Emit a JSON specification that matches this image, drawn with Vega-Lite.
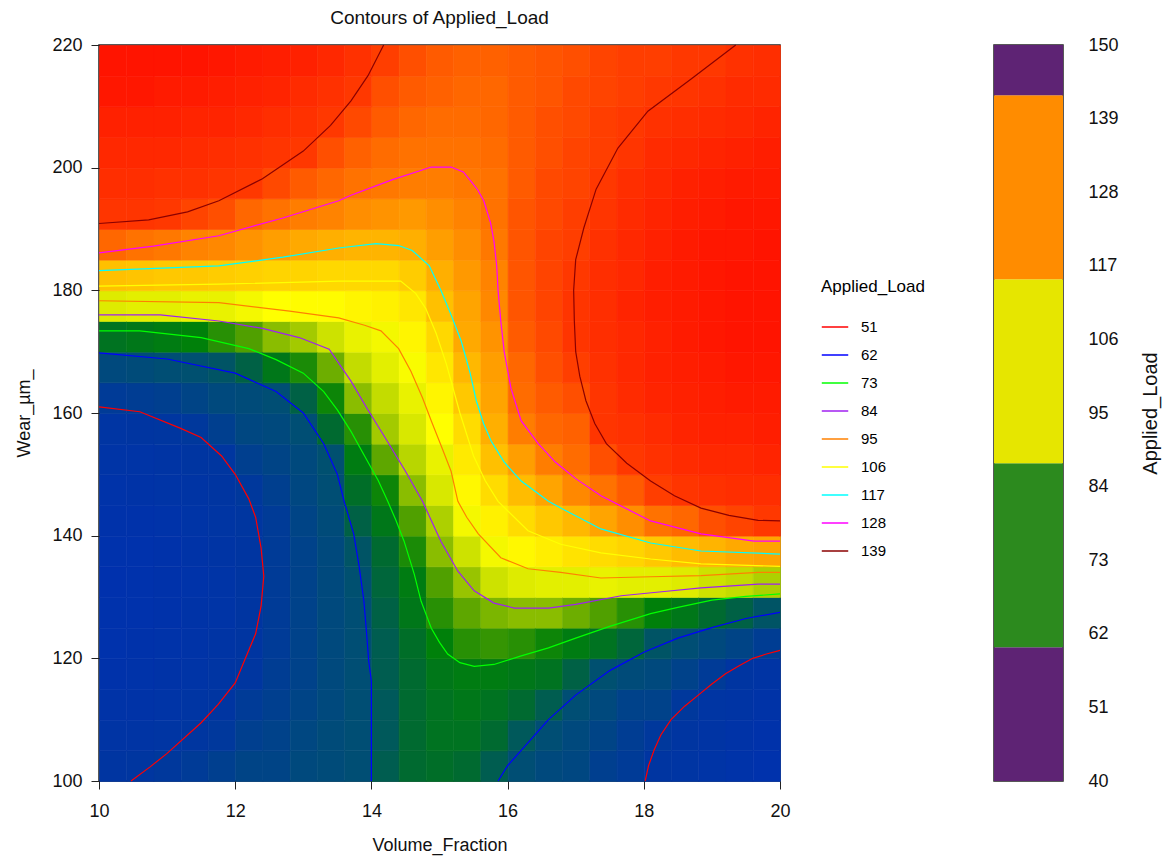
{
"$schema":"https://vega.github.io/schema/vega-lite/v6.json",
"padding":{"left":15,"top":8,"right":5,"bottom":5},
"spacing":202,
"config":{
 "font":"Liberation Sans",
 "view":{"stroke":"#222","strokeWidth":1.5},
 "axis":{"labelFontSize":18,"titleFontSize":18,"titleFontWeight":"normal","tickSize":8,"labelPadding":6,"grid":false,"domain":false,"tickColor":"#222","labelColor":"#111","titleColor":"#111","labelFlush":false,"labelOverlap":false},
 "title":{"fontSize":19,"fontWeight":"normal","color":"#111"}
},
"datasets":{
"bands":[
{"band":"b1","lo":40,"hi":60},{"band":"b2","lo":60,"hi":87.5},{"band":"b3","lo":87.5,"hi":115},{"band":"b4","lo":115,"hi":142.5},{"band":"b5","lo":142.5,"hi":150}
],
"contours":[
{"seg":"51a","lvl":"51","o":1,"x":10,"y":161},{"seg":"51a","lvl":"51","o":2,"x":10.6,"y":160.2},{"seg":"51a","lvl":"51","o":3,"x":11.2,"y":157.5},{"seg":"51a","lvl":"51","o":4,"x":11.5,"y":156},{"seg":"51a","lvl":"51","o":5,"x":11.8,"y":153},{"seg":"51a","lvl":"51","o":6,"x":12.0,"y":150},{"seg":"51a","lvl":"51","o":7,"x":12.2,"y":146},{"seg":"51a","lvl":"51","o":8,"x":12.3,"y":143},{"seg":"51a","lvl":"51","o":9,"x":12.38,"y":138},{"seg":"51a","lvl":"51","o":10,"x":12.42,"y":133.4},{"seg":"51a","lvl":"51","o":11,"x":12.38,"y":128.5},{"seg":"51a","lvl":"51","o":12,"x":12.3,"y":124},{"seg":"51a","lvl":"51","o":13,"x":12.15,"y":120},{"seg":"51a","lvl":"51","o":14,"x":12.0,"y":116},{"seg":"51a","lvl":"51","o":15,"x":11.75,"y":112.5},{"seg":"51a","lvl":"51","o":16,"x":11.5,"y":109.5},{"seg":"51a","lvl":"51","o":17,"x":11.0,"y":104.5},{"seg":"51a","lvl":"51","o":18,"x":10.75,"y":102.3},{"seg":"51a","lvl":"51","o":19,"x":10.47,"y":100},
{"seg":"51b","lvl":"51","o":1,"x":18.02,"y":100},{"seg":"51b","lvl":"51","o":2,"x":18.07,"y":102.5},{"seg":"51b","lvl":"51","o":3,"x":18.15,"y":105},{"seg":"51b","lvl":"51","o":4,"x":18.25,"y":107.5},{"seg":"51b","lvl":"51","o":5,"x":18.4,"y":110},{"seg":"51b","lvl":"51","o":6,"x":18.6,"y":112.2},{"seg":"51b","lvl":"51","o":7,"x":18.8,"y":114},{"seg":"51b","lvl":"51","o":8,"x":19.0,"y":115.8},{"seg":"51b","lvl":"51","o":9,"x":19.2,"y":117.5},{"seg":"51b","lvl":"51","o":10,"x":19.4,"y":118.8},{"seg":"51b","lvl":"51","o":11,"x":19.6,"y":120},{"seg":"51b","lvl":"51","o":12,"x":19.8,"y":120.7},{"seg":"51b","lvl":"51","o":13,"x":20,"y":121.3},
{"seg":"62a","lvl":"62","o":1,"x":10,"y":169.8},{"seg":"62a","lvl":"62","o":2,"x":11,"y":168.8},{"seg":"62a","lvl":"62","o":3,"x":12,"y":166.5},{"seg":"62a","lvl":"62","o":4,"x":12.6,"y":163.5},{"seg":"62a","lvl":"62","o":5,"x":13,"y":160},{"seg":"62a","lvl":"62","o":6,"x":13.3,"y":155},{"seg":"62a","lvl":"62","o":7,"x":13.5,"y":150},{"seg":"62a","lvl":"62","o":8,"x":13.6,"y":145.6},{"seg":"62a","lvl":"62","o":9,"x":13.74,"y":140.3},{"seg":"62a","lvl":"62","o":10,"x":13.82,"y":135},{"seg":"62a","lvl":"62","o":11,"x":13.89,"y":129.3},{"seg":"62a","lvl":"62","o":12,"x":13.93,"y":124},{"seg":"62a","lvl":"62","o":13,"x":13.96,"y":119.6},{"seg":"62a","lvl":"62","o":14,"x":14.0,"y":116.3},{"seg":"62a","lvl":"62","o":15,"x":14.0,"y":108},{"seg":"62a","lvl":"62","o":16,"x":14.0,"y":100},
{"seg":"62b","lvl":"62","o":1,"x":15.86,"y":100},{"seg":"62b","lvl":"62","o":2,"x":16.0,"y":102.5},{"seg":"62b","lvl":"62","o":3,"x":16.2,"y":105},{"seg":"62b","lvl":"62","o":4,"x":16.6,"y":110},{"seg":"62b","lvl":"62","o":5,"x":17.0,"y":114},{"seg":"62b","lvl":"62","o":6,"x":17.5,"y":118},{"seg":"62b","lvl":"62","o":7,"x":18.0,"y":121},{"seg":"62b","lvl":"62","o":8,"x":18.5,"y":123.3},{"seg":"62b","lvl":"62","o":9,"x":19.0,"y":125},{"seg":"62b","lvl":"62","o":10,"x":19.5,"y":126.5},{"seg":"62b","lvl":"62","o":11,"x":20,"y":127.5},
{"seg":"73","lvl":"73","o":1,"x":10,"y":173.4},{"seg":"73","lvl":"73","o":2,"x":10.6,"y":173.4},{"seg":"73","lvl":"73","o":3,"x":11.5,"y":172.3},{"seg":"73","lvl":"73","o":4,"x":12.2,"y":170.5},{"seg":"73","lvl":"73","o":5,"x":12.6,"y":168.7},{"seg":"73","lvl":"73","o":6,"x":13.0,"y":166.5},{"seg":"73","lvl":"73","o":7,"x":13.3,"y":163.5},{"seg":"73","lvl":"73","o":8,"x":13.5,"y":160.5},{"seg":"73","lvl":"73","o":9,"x":13.7,"y":157},{"seg":"73","lvl":"73","o":10,"x":13.9,"y":153},{"seg":"73","lvl":"73","o":11,"x":14.1,"y":149},{"seg":"73","lvl":"73","o":12,"x":14.24,"y":145.6},{"seg":"73","lvl":"73","o":13,"x":14.36,"y":142.5},{"seg":"73","lvl":"73","o":14,"x":14.48,"y":139.1},{"seg":"73","lvl":"73","o":15,"x":14.63,"y":133.7},{"seg":"73","lvl":"73","o":16,"x":14.73,"y":129.3},{"seg":"73","lvl":"73","o":17,"x":14.88,"y":124.9},{"seg":"73","lvl":"73","o":18,"x":15.0,"y":122.6},{"seg":"73","lvl":"73","o":19,"x":15.12,"y":120.7},{"seg":"73","lvl":"73","o":20,"x":15.3,"y":119.3},{"seg":"73","lvl":"73","o":21,"x":15.51,"y":118.7},{"seg":"73","lvl":"73","o":22,"x":15.8,"y":119},{"seg":"73","lvl":"73","o":23,"x":16.2,"y":120.4},{"seg":"73","lvl":"73","o":24,"x":16.6,"y":121.7},{"seg":"73","lvl":"73","o":25,"x":17.0,"y":123.3},{"seg":"73","lvl":"73","o":26,"x":17.5,"y":125.2},{"seg":"73","lvl":"73","o":27,"x":18.1,"y":127.3},{"seg":"73","lvl":"73","o":28,"x":18.5,"y":128.3},{"seg":"73","lvl":"73","o":29,"x":19.0,"y":129.5},{"seg":"73","lvl":"73","o":30,"x":19.5,"y":130.1},{"seg":"73","lvl":"73","o":31,"x":20,"y":130.5},
{"seg":"84","lvl":"84","o":1,"x":10,"y":176},{"seg":"84","lvl":"84","o":2,"x":10.9,"y":176},{"seg":"84","lvl":"84","o":3,"x":11.76,"y":175},{"seg":"84","lvl":"84","o":4,"x":12.4,"y":173.8},{"seg":"84","lvl":"84","o":5,"x":12.94,"y":172.3},{"seg":"84","lvl":"84","o":6,"x":13.38,"y":170.4},{"seg":"84","lvl":"84","o":7,"x":13.7,"y":165.2},{"seg":"84","lvl":"84","o":8,"x":13.95,"y":160.5},{"seg":"84","lvl":"84","o":9,"x":14.2,"y":156},{"seg":"84","lvl":"84","o":10,"x":14.5,"y":150.5},{"seg":"84","lvl":"84","o":11,"x":14.75,"y":145.6},{"seg":"84","lvl":"84","o":12,"x":15.02,"y":139.1},{"seg":"84","lvl":"84","o":13,"x":15.27,"y":134.2},{"seg":"84","lvl":"84","o":14,"x":15.51,"y":131},{"seg":"84","lvl":"84","o":15,"x":15.8,"y":129},{"seg":"84","lvl":"84","o":16,"x":16.1,"y":128.2},{"seg":"84","lvl":"84","o":17,"x":16.6,"y":128.2},{"seg":"84","lvl":"84","o":18,"x":17.0,"y":128.8},{"seg":"84","lvl":"84","o":19,"x":17.67,"y":130.2},{"seg":"84","lvl":"84","o":20,"x":18.3,"y":130.9},{"seg":"84","lvl":"84","o":21,"x":18.84,"y":131.5},{"seg":"84","lvl":"84","o":22,"x":19.68,"y":132.1},{"seg":"84","lvl":"84","o":23,"x":20,"y":132.1},
{"seg":"95","lvl":"95","o":1,"x":10,"y":178.3},{"seg":"95","lvl":"95","o":2,"x":11.76,"y":178},{"seg":"95","lvl":"95","o":3,"x":12.8,"y":176.6},{"seg":"95","lvl":"95","o":4,"x":13.52,"y":175.5},{"seg":"95","lvl":"95","o":5,"x":13.9,"y":174.3},{"seg":"95","lvl":"95","o":6,"x":14.14,"y":173.4},{"seg":"95","lvl":"95","o":7,"x":14.4,"y":170.5},{"seg":"95","lvl":"95","o":8,"x":14.58,"y":166.8},{"seg":"95","lvl":"95","o":9,"x":14.75,"y":162.5},{"seg":"95","lvl":"95","o":10,"x":14.88,"y":158.7},{"seg":"95","lvl":"95","o":11,"x":15.03,"y":154.5},{"seg":"95","lvl":"95","o":12,"x":15.17,"y":150.5},{"seg":"95","lvl":"95","o":13,"x":15.27,"y":145.6},{"seg":"95","lvl":"95","o":14,"x":15.4,"y":143},{"seg":"95","lvl":"95","o":15,"x":15.57,"y":140.3},{"seg":"95","lvl":"95","o":16,"x":15.9,"y":136.4},{"seg":"95","lvl":"95","o":17,"x":16.3,"y":134.6},{"seg":"95","lvl":"95","o":18,"x":16.78,"y":134},{"seg":"95","lvl":"95","o":19,"x":17.37,"y":133.1},{"seg":"95","lvl":"95","o":20,"x":18.1,"y":133.3},{"seg":"95","lvl":"95","o":21,"x":18.84,"y":133.5},{"seg":"95","lvl":"95","o":22,"x":19.68,"y":134},{"seg":"95","lvl":"95","o":23,"x":20,"y":134},
{"seg":"106","lvl":"106","o":1,"x":10,"y":180.7},{"seg":"106","lvl":"106","o":2,"x":11.76,"y":181},{"seg":"106","lvl":"106","o":3,"x":13.52,"y":181.5},{"seg":"106","lvl":"106","o":4,"x":14.43,"y":181.5},{"seg":"106","lvl":"106","o":5,"x":14.65,"y":179.5},{"seg":"106","lvl":"106","o":6,"x":14.8,"y":177},{"seg":"106","lvl":"106","o":7,"x":14.95,"y":173},{"seg":"106","lvl":"106","o":8,"x":15.1,"y":168},{"seg":"106","lvl":"106","o":9,"x":15.3,"y":160},{"seg":"106","lvl":"106","o":10,"x":15.5,"y":153},{"seg":"106","lvl":"106","o":11,"x":15.67,"y":149},{"seg":"106","lvl":"106","o":12,"x":15.86,"y":145.6},{"seg":"106","lvl":"106","o":13,"x":16.3,"y":140.8},{"seg":"106","lvl":"106","o":14,"x":16.78,"y":138.6},{"seg":"106","lvl":"106","o":15,"x":17.37,"y":137.2},{"seg":"106","lvl":"106","o":16,"x":18.1,"y":136.2},{"seg":"106","lvl":"106","o":17,"x":18.84,"y":135.4},{"seg":"106","lvl":"106","o":18,"x":20,"y":135},
{"seg":"117","lvl":"117","o":1,"x":10,"y":183.2},{"seg":"117","lvl":"117","o":2,"x":11.76,"y":184},{"seg":"117","lvl":"117","o":3,"x":12.7,"y":185.4},{"seg":"117","lvl":"117","o":4,"x":13.52,"y":186.9},{"seg":"117","lvl":"117","o":5,"x":14.07,"y":187.6},{"seg":"117","lvl":"117","o":6,"x":14.4,"y":187.3},{"seg":"117","lvl":"117","o":7,"x":14.6,"y":186.5},{"seg":"117","lvl":"117","o":8,"x":14.85,"y":184},{"seg":"117","lvl":"117","o":9,"x":15.02,"y":180},{"seg":"117","lvl":"117","o":10,"x":15.17,"y":176},{"seg":"117","lvl":"117","o":11,"x":15.32,"y":171.7},{"seg":"117","lvl":"117","o":12,"x":15.45,"y":166.5},{"seg":"117","lvl":"117","o":13,"x":15.54,"y":162},{"seg":"117","lvl":"117","o":14,"x":15.65,"y":158.2},{"seg":"117","lvl":"117","o":15,"x":15.76,"y":155.4},{"seg":"117","lvl":"117","o":16,"x":15.95,"y":152},{"seg":"117","lvl":"117","o":17,"x":16.2,"y":148.9},{"seg":"117","lvl":"117","o":18,"x":16.6,"y":145.6},{"seg":"117","lvl":"117","o":19,"x":16.78,"y":144.5},{"seg":"117","lvl":"117","o":20,"x":17.37,"y":141.1},{"seg":"117","lvl":"117","o":21,"x":18.1,"y":138.8},{"seg":"117","lvl":"117","o":22,"x":18.84,"y":137.5},{"seg":"117","lvl":"117","o":23,"x":20,"y":137},
{"seg":"128","lvl":"128","o":1,"x":10,"y":186.1},{"seg":"128","lvl":"128","o":2,"x":10.8,"y":187.2},{"seg":"128","lvl":"128","o":3,"x":11.76,"y":188.9},{"seg":"128","lvl":"128","o":4,"x":12.7,"y":191.8},{"seg":"128","lvl":"128","o":5,"x":13.52,"y":194.6},{"seg":"128","lvl":"128","o":6,"x":13.7,"y":195.5},{"seg":"128","lvl":"128","o":7,"x":14.3,"y":198},{"seg":"128","lvl":"128","o":8,"x":14.88,"y":200.1},{"seg":"128","lvl":"128","o":9,"x":15.17,"y":200.1},{"seg":"128","lvl":"128","o":10,"x":15.35,"y":199.3},{"seg":"128","lvl":"128","o":11,"x":15.46,"y":197.8},{"seg":"128","lvl":"128","o":12,"x":15.56,"y":196.4},{"seg":"128","lvl":"128","o":13,"x":15.65,"y":194.6},{"seg":"128","lvl":"128","o":14,"x":15.75,"y":191},{"seg":"128","lvl":"128","o":15,"x":15.8,"y":188},{"seg":"128","lvl":"128","o":16,"x":15.84,"y":184},{"seg":"128","lvl":"128","o":17,"x":15.86,"y":180},{"seg":"128","lvl":"128","o":18,"x":15.9,"y":175},{"seg":"128","lvl":"128","o":19,"x":15.95,"y":170},{"seg":"128","lvl":"128","o":20,"x":16.05,"y":164},{"seg":"128","lvl":"128","o":21,"x":16.2,"y":158.7},{"seg":"128","lvl":"128","o":22,"x":16.45,"y":155},{"seg":"128","lvl":"128","o":23,"x":16.7,"y":152},{"seg":"128","lvl":"128","o":24,"x":17.0,"y":149.3},{"seg":"128","lvl":"128","o":25,"x":17.37,"y":146.5},{"seg":"128","lvl":"128","o":26,"x":18.1,"y":142.4},{"seg":"128","lvl":"128","o":27,"x":18.84,"y":140.3},{"seg":"128","lvl":"128","o":28,"x":19.62,"y":139.1},{"seg":"128","lvl":"128","o":29,"x":20,"y":139.1},
{"seg":"139a","lvl":"139","o":1,"x":10,"y":190.9},{"seg":"139a","lvl":"139","o":2,"x":10.73,"y":191.5},{"seg":"139a","lvl":"139","o":3,"x":11.3,"y":192.8},{"seg":"139a","lvl":"139","o":4,"x":11.76,"y":194.6},{"seg":"139a","lvl":"139","o":5,"x":12.4,"y":198.2},{"seg":"139a","lvl":"139","o":6,"x":13,"y":202.7},{"seg":"139a","lvl":"139","o":7,"x":13.4,"y":206.9},{"seg":"139a","lvl":"139","o":8,"x":13.7,"y":210.9},{"seg":"139a","lvl":"139","o":9,"x":13.95,"y":215},{"seg":"139a","lvl":"139","o":10,"x":14.18,"y":220},
{"seg":"139b","lvl":"139","o":1,"x":19.35,"y":220},{"seg":"139b","lvl":"139","o":2,"x":18.7,"y":214.5},{"seg":"139b","lvl":"139","o":3,"x":18.06,"y":209.2},{"seg":"139b","lvl":"139","o":4,"x":17.62,"y":203.2},{"seg":"139b","lvl":"139","o":5,"x":17.3,"y":196.5},{"seg":"139b","lvl":"139","o":6,"x":17.12,"y":190.2},{"seg":"139b","lvl":"139","o":7,"x":17.0,"y":185},{"seg":"139b","lvl":"139","o":8,"x":16.97,"y":180},{"seg":"139b","lvl":"139","o":9,"x":16.98,"y":175},{"seg":"139b","lvl":"139","o":10,"x":17.0,"y":170},{"seg":"139b","lvl":"139","o":11,"x":17.06,"y":166},{"seg":"139b","lvl":"139","o":12,"x":17.15,"y":162},{"seg":"139b","lvl":"139","o":13,"x":17.28,"y":158.3},{"seg":"139b","lvl":"139","o":14,"x":17.45,"y":155},{"seg":"139b","lvl":"139","o":15,"x":17.75,"y":151.8},{"seg":"139b","lvl":"139","o":16,"x":18.1,"y":148.9},{"seg":"139b","lvl":"139","o":17,"x":18.45,"y":146.5},{"seg":"139b","lvl":"139","o":18,"x":18.84,"y":144.5},{"seg":"139b","lvl":"139","o":19,"x":19.25,"y":143.3},{"seg":"139b","lvl":"139","o":20,"x":19.68,"y":142.5},{"seg":"139b","lvl":"139","o":21,"x":20,"y":142.4}
],
"grid":[
{"x":10.2,"y":102.5,"v":50},{"x":10.2,"y":107.5,"v":48},{"x":10.2,"y":112.5,"v":46},{"x":10.2,"y":117.5,"v":44},{"x":10.2,"y":122.5,"v":43},{"x":10.2,"y":127.5,"v":43},{"x":10.2,"y":132.5,"v":42},{"x":10.2,"y":137.5,"v":43},{"x":10.2,"y":142.5,"v":44},{"x":10.2,"y":147.5,"v":45},{"x":10.2,"y":152.5,"v":47},{"x":10.2,"y":157.5,"v":49},{"x":10.2,"y":162.5,"v":53},{"x":10.2,"y":167.5,"v":59},{"x":10.2,"y":172.5,"v":70},{"x":10.2,"y":177.5,"v":91},{"x":10.2,"y":182.5,"v":114},{"x":10.2,"y":187.5,"v":131},{"x":10.2,"y":192.5,"v":140},{"x":10.2,"y":197.5,"v":142},{"x":10.2,"y":202.5,"v":144},{"x":10.2,"y":207.5,"v":146},{"x":10.2,"y":212.5,"v":149},{"x":10.2,"y":217.5,"v":150},
{"x":10.6,"y":102.5,"v":51},{"x":10.6,"y":107.5,"v":48},{"x":10.6,"y":112.5,"v":46},{"x":10.6,"y":117.5,"v":45},{"x":10.6,"y":122.5,"v":44},{"x":10.6,"y":127.5,"v":43},{"x":10.6,"y":132.5,"v":43},{"x":10.6,"y":137.5,"v":43},{"x":10.6,"y":142.5,"v":44},{"x":10.6,"y":147.5,"v":46},{"x":10.6,"y":152.5,"v":47},{"x":10.6,"y":157.5,"v":50},{"x":10.6,"y":162.5,"v":54},{"x":10.6,"y":167.5,"v":60},{"x":10.6,"y":172.5,"v":71},{"x":10.6,"y":177.5,"v":92},{"x":10.6,"y":182.5,"v":113},{"x":10.6,"y":187.5,"v":129},{"x":10.6,"y":192.5,"v":140},{"x":10.6,"y":197.5,"v":142},{"x":10.6,"y":202.5,"v":144},{"x":10.6,"y":207.5,"v":146},{"x":10.6,"y":212.5,"v":149},{"x":10.6,"y":217.5,"v":150},
{"x":11.0,"y":102.5,"v":52},{"x":11.0,"y":107.5,"v":49},{"x":11.0,"y":112.5,"v":47},{"x":11.0,"y":117.5,"v":46},{"x":11.0,"y":122.5,"v":45},{"x":11.0,"y":127.5,"v":44},{"x":11.0,"y":132.5,"v":44},{"x":11.0,"y":137.5,"v":44},{"x":11.0,"y":142.5,"v":45},{"x":11.0,"y":147.5,"v":47},{"x":11.0,"y":152.5,"v":48},{"x":11.0,"y":157.5,"v":51},{"x":11.0,"y":162.5,"v":55},{"x":11.0,"y":167.5,"v":61},{"x":11.0,"y":172.5,"v":72},{"x":11.0,"y":177.5,"v":92},{"x":11.0,"y":182.5,"v":112},{"x":11.0,"y":187.5,"v":128},{"x":11.0,"y":192.5,"v":139},{"x":11.0,"y":197.5,"v":141},{"x":11.0,"y":202.5,"v":144},{"x":11.0,"y":207.5,"v":146},{"x":11.0,"y":212.5,"v":148},{"x":11.0,"y":217.5,"v":150},
{"x":11.4,"y":102.5,"v":53},{"x":11.4,"y":107.5,"v":51},{"x":11.4,"y":112.5,"v":49},{"x":11.4,"y":117.5,"v":47},{"x":11.4,"y":122.5,"v":46},{"x":11.4,"y":127.5,"v":46},{"x":11.4,"y":132.5,"v":45},{"x":11.4,"y":137.5,"v":46},{"x":11.4,"y":142.5,"v":47},{"x":11.4,"y":147.5,"v":48},{"x":11.4,"y":152.5,"v":50},{"x":11.4,"y":157.5,"v":52},{"x":11.4,"y":162.5,"v":57},{"x":11.4,"y":167.5,"v":62},{"x":11.4,"y":172.5,"v":73},{"x":11.4,"y":177.5,"v":93},{"x":11.4,"y":182.5,"v":112},{"x":11.4,"y":187.5,"v":126},{"x":11.4,"y":192.5,"v":137},{"x":11.4,"y":197.5,"v":141},{"x":11.4,"y":202.5,"v":143},{"x":11.4,"y":207.5,"v":145},{"x":11.4,"y":212.5,"v":148},{"x":11.4,"y":217.5,"v":150},
{"x":11.8,"y":102.5,"v":55},{"x":11.8,"y":107.5,"v":52},{"x":11.8,"y":112.5,"v":50},{"x":11.8,"y":117.5,"v":49},{"x":11.8,"y":122.5,"v":48},{"x":11.8,"y":127.5,"v":47},{"x":11.8,"y":132.5,"v":47},{"x":11.8,"y":137.5,"v":48},{"x":11.8,"y":142.5,"v":49},{"x":11.8,"y":147.5,"v":50},{"x":11.8,"y":152.5,"v":51},{"x":11.8,"y":157.5,"v":55},{"x":11.8,"y":162.5,"v":59},{"x":11.8,"y":167.5,"v":63},{"x":11.8,"y":172.5,"v":76},{"x":11.8,"y":177.5,"v":93},{"x":11.8,"y":182.5,"v":111},{"x":11.8,"y":187.5,"v":125},{"x":11.8,"y":192.5,"v":135},{"x":11.8,"y":197.5,"v":140},{"x":11.8,"y":202.5,"v":142},{"x":11.8,"y":207.5,"v":145},{"x":11.8,"y":212.5,"v":147},{"x":11.8,"y":217.5,"v":149},
{"x":12.2,"y":102.5,"v":57},{"x":12.2,"y":107.5,"v":55},{"x":12.2,"y":112.5,"v":53},{"x":12.2,"y":117.5,"v":51},{"x":12.2,"y":122.5,"v":50},{"x":12.2,"y":127.5,"v":50},{"x":12.2,"y":132.5,"v":50},{"x":12.2,"y":137.5,"v":50},{"x":12.2,"y":142.5,"v":51},{"x":12.2,"y":147.5,"v":52},{"x":12.2,"y":152.5,"v":55},{"x":12.2,"y":157.5,"v":58},{"x":12.2,"y":162.5,"v":60},{"x":12.2,"y":167.5,"v":66},{"x":12.2,"y":172.5,"v":79},{"x":12.2,"y":177.5,"v":95},{"x":12.2,"y":182.5,"v":110},{"x":12.2,"y":187.5,"v":123},{"x":12.2,"y":192.5,"v":131},{"x":12.2,"y":197.5,"v":139},{"x":12.2,"y":202.5,"v":141},{"x":12.2,"y":207.5,"v":144},{"x":12.2,"y":212.5,"v":146},{"x":12.2,"y":217.5,"v":148},
{"x":12.6,"y":102.5,"v":57},{"x":12.6,"y":107.5,"v":56},{"x":12.6,"y":112.5,"v":55},{"x":12.6,"y":117.5,"v":54},{"x":12.6,"y":122.5,"v":53},{"x":12.6,"y":127.5,"v":53},{"x":12.6,"y":132.5,"v":53},{"x":12.6,"y":137.5,"v":53},{"x":12.6,"y":142.5,"v":53},{"x":12.6,"y":147.5,"v":55},{"x":12.6,"y":152.5,"v":57},{"x":12.6,"y":157.5,"v":59},{"x":12.6,"y":162.5,"v":61},{"x":12.6,"y":167.5,"v":71},{"x":12.6,"y":172.5,"v":83},{"x":12.6,"y":177.5,"v":97},{"x":12.6,"y":182.5,"v":109},{"x":12.6,"y":187.5,"v":121},{"x":12.6,"y":192.5,"v":129},{"x":12.6,"y":197.5,"v":136},{"x":12.6,"y":202.5,"v":140},{"x":12.6,"y":207.5,"v":142},{"x":12.6,"y":212.5,"v":145},{"x":12.6,"y":217.5,"v":147},
{"x":13.0,"y":102.5,"v":59},{"x":13.0,"y":107.5,"v":58},{"x":13.0,"y":112.5,"v":57},{"x":13.0,"y":117.5,"v":56},{"x":13.0,"y":122.5,"v":56},{"x":13.0,"y":127.5,"v":56},{"x":13.0,"y":132.5,"v":56},{"x":13.0,"y":137.5,"v":56},{"x":13.0,"y":142.5,"v":57},{"x":13.0,"y":147.5,"v":58},{"x":13.0,"y":152.5,"v":59},{"x":13.0,"y":157.5,"v":61},{"x":13.0,"y":162.5,"v":66},{"x":13.0,"y":167.5,"v":75},{"x":13.0,"y":172.5,"v":85},{"x":13.0,"y":177.5,"v":98},{"x":13.0,"y":182.5,"v":109},{"x":13.0,"y":187.5,"v":119},{"x":13.0,"y":192.5,"v":127},{"x":13.0,"y":197.5,"v":133},{"x":13.0,"y":202.5,"v":139},{"x":13.0,"y":207.5,"v":141},{"x":13.0,"y":212.5,"v":143},{"x":13.0,"y":217.5,"v":146},
{"x":13.4,"y":102.5,"v":60},{"x":13.4,"y":107.5,"v":60},{"x":13.4,"y":112.5,"v":59},{"x":13.4,"y":117.5,"v":59},{"x":13.4,"y":122.5,"v":59},{"x":13.4,"y":127.5,"v":59},{"x":13.4,"y":132.5,"v":59},{"x":13.4,"y":137.5,"v":59},{"x":13.4,"y":142.5,"v":60},{"x":13.4,"y":147.5,"v":61},{"x":13.4,"y":152.5,"v":62},{"x":13.4,"y":157.5,"v":68},{"x":13.4,"y":162.5,"v":74},{"x":13.4,"y":167.5,"v":81},{"x":13.4,"y":172.5,"v":89},{"x":13.4,"y":177.5,"v":98},{"x":13.4,"y":182.5,"v":108},{"x":13.4,"y":187.5,"v":118},{"x":13.4,"y":192.5,"v":126},{"x":13.4,"y":197.5,"v":131},{"x":13.4,"y":202.5,"v":135},{"x":13.4,"y":207.5,"v":139},{"x":13.4,"y":212.5,"v":141},{"x":13.4,"y":217.5,"v":144},
{"x":13.8,"y":102.5,"v":61},{"x":13.8,"y":107.5,"v":61},{"x":13.8,"y":112.5,"v":61},{"x":13.8,"y":117.5,"v":61},{"x":13.8,"y":122.5,"v":61},{"x":13.8,"y":127.5,"v":61},{"x":13.8,"y":132.5,"v":62},{"x":13.8,"y":137.5,"v":63},{"x":13.8,"y":142.5,"v":66},{"x":13.8,"y":147.5,"v":69},{"x":13.8,"y":152.5,"v":72},{"x":13.8,"y":157.5,"v":76},{"x":13.8,"y":162.5,"v":83},{"x":13.8,"y":167.5,"v":88},{"x":13.8,"y":172.5,"v":93},{"x":13.8,"y":177.5,"v":100},{"x":13.8,"y":182.5,"v":108},{"x":13.8,"y":187.5,"v":117},{"x":13.8,"y":192.5,"v":124},{"x":13.8,"y":197.5,"v":129},{"x":13.8,"y":202.5,"v":132},{"x":13.8,"y":207.5,"v":136},{"x":13.8,"y":212.5,"v":139},{"x":13.8,"y":217.5,"v":141},
{"x":14.2,"y":102.5,"v":65},{"x":14.2,"y":107.5,"v":64},{"x":14.2,"y":112.5,"v":64},{"x":14.2,"y":117.5,"v":65},{"x":14.2,"y":122.5,"v":65},{"x":14.2,"y":127.5,"v":66},{"x":14.2,"y":132.5,"v":67},{"x":14.2,"y":137.5,"v":68},{"x":14.2,"y":142.5,"v":71},{"x":14.2,"y":147.5,"v":74},{"x":14.2,"y":152.5,"v":80},{"x":14.2,"y":157.5,"v":85},{"x":14.2,"y":162.5,"v":88},{"x":14.2,"y":167.5,"v":92},{"x":14.2,"y":172.5,"v":95},{"x":14.2,"y":177.5,"v":101},{"x":14.2,"y":182.5,"v":108},{"x":14.2,"y":187.5,"v":117},{"x":14.2,"y":192.5,"v":123},{"x":14.2,"y":197.5,"v":128},{"x":14.2,"y":202.5,"v":130},{"x":14.2,"y":207.5,"v":133},{"x":14.2,"y":212.5,"v":135},{"x":14.2,"y":217.5,"v":138},
{"x":14.6,"y":102.5,"v":68},{"x":14.6,"y":107.5,"v":68},{"x":14.6,"y":112.5,"v":68},{"x":14.6,"y":117.5,"v":68},{"x":14.6,"y":122.5,"v":69},{"x":14.6,"y":127.5,"v":71},{"x":14.6,"y":132.5,"v":72},{"x":14.6,"y":137.5,"v":75},{"x":14.6,"y":142.5,"v":79},{"x":14.6,"y":147.5,"v":83},{"x":14.6,"y":152.5,"v":87},{"x":14.6,"y":157.5,"v":90},{"x":14.6,"y":162.5,"v":93},{"x":14.6,"y":167.5,"v":96},{"x":14.6,"y":172.5,"v":100},{"x":14.6,"y":177.5,"v":104},{"x":14.6,"y":182.5,"v":111},{"x":14.6,"y":187.5,"v":118},{"x":14.6,"y":192.5,"v":122},{"x":14.6,"y":197.5,"v":127},{"x":14.6,"y":202.5,"v":129},{"x":14.6,"y":207.5,"v":131},{"x":14.6,"y":212.5,"v":133},{"x":14.6,"y":217.5,"v":135},
{"x":15.0,"y":102.5,"v":69},{"x":15.0,"y":107.5,"v":70},{"x":15.0,"y":112.5,"v":70},{"x":15.0,"y":117.5,"v":71},{"x":15.0,"y":122.5,"v":73},{"x":15.0,"y":127.5,"v":76},{"x":15.0,"y":132.5,"v":79},{"x":15.0,"y":137.5,"v":83},{"x":15.0,"y":142.5,"v":86},{"x":15.0,"y":147.5,"v":90},{"x":15.0,"y":152.5,"v":93},{"x":15.0,"y":157.5,"v":97},{"x":15.0,"y":162.5,"v":100},{"x":15.0,"y":167.5,"v":104},{"x":15.0,"y":172.5,"v":108},{"x":15.0,"y":177.5,"v":114},{"x":15.0,"y":182.5,"v":118},{"x":15.0,"y":187.5,"v":121},{"x":15.0,"y":192.5,"v":124},{"x":15.0,"y":197.5,"v":127},{"x":15.0,"y":202.5,"v":129},{"x":15.0,"y":207.5,"v":130},{"x":15.0,"y":212.5,"v":132},{"x":15.0,"y":217.5,"v":133},
{"x":15.4,"y":102.5,"v":68},{"x":15.4,"y":107.5,"v":70},{"x":15.4,"y":112.5,"v":71},{"x":15.4,"y":117.5,"v":72},{"x":15.4,"y":122.5,"v":76},{"x":15.4,"y":127.5,"v":80},{"x":15.4,"y":132.5,"v":84},{"x":15.4,"y":137.5,"v":89},{"x":15.4,"y":142.5,"v":95},{"x":15.4,"y":147.5,"v":99},{"x":15.4,"y":152.5,"v":103},{"x":15.4,"y":157.5,"v":107},{"x":15.4,"y":162.5,"v":112},{"x":15.4,"y":167.5,"v":116},{"x":15.4,"y":172.5,"v":119},{"x":15.4,"y":177.5,"v":120},{"x":15.4,"y":182.5,"v":122},{"x":15.4,"y":187.5,"v":124},{"x":15.4,"y":192.5,"v":126},{"x":15.4,"y":197.5,"v":128},{"x":15.4,"y":202.5,"v":129},{"x":15.4,"y":207.5,"v":130},{"x":15.4,"y":212.5,"v":131},{"x":15.4,"y":217.5,"v":132},
{"x":15.8,"y":102.5,"v":65},{"x":15.8,"y":107.5,"v":68},{"x":15.8,"y":112.5,"v":70},{"x":15.8,"y":117.5,"v":72},{"x":15.8,"y":122.5,"v":77},{"x":15.8,"y":127.5,"v":82},{"x":15.8,"y":132.5,"v":89},{"x":15.8,"y":137.5,"v":95},{"x":15.8,"y":142.5,"v":101},{"x":15.8,"y":147.5,"v":107},{"x":15.8,"y":152.5,"v":114},{"x":15.8,"y":157.5,"v":118},{"x":15.8,"y":162.5,"v":120},{"x":15.8,"y":167.5,"v":121},{"x":15.8,"y":172.5,"v":123},{"x":15.8,"y":177.5,"v":125},{"x":15.8,"y":182.5,"v":126},{"x":15.8,"y":187.5,"v":128},{"x":15.8,"y":192.5,"v":129},{"x":15.8,"y":197.5,"v":129},{"x":15.8,"y":202.5,"v":130},{"x":15.8,"y":207.5,"v":131},{"x":15.8,"y":212.5,"v":131},{"x":15.8,"y":217.5,"v":132},
{"x":16.2,"y":102.5,"v":61},{"x":16.2,"y":107.5,"v":64},{"x":16.2,"y":112.5,"v":68},{"x":16.2,"y":117.5,"v":71},{"x":16.2,"y":122.5,"v":76},{"x":16.2,"y":127.5,"v":83},{"x":16.2,"y":132.5,"v":91},{"x":16.2,"y":137.5,"v":99},{"x":16.2,"y":142.5,"v":107},{"x":16.2,"y":147.5,"v":115},{"x":16.2,"y":152.5,"v":121},{"x":16.2,"y":157.5,"v":127},{"x":16.2,"y":162.5,"v":130},{"x":16.2,"y":167.5,"v":131},{"x":16.2,"y":172.5,"v":133},{"x":16.2,"y":177.5,"v":134},{"x":16.2,"y":182.5,"v":134},{"x":16.2,"y":187.5,"v":134},{"x":16.2,"y":192.5,"v":134},{"x":16.2,"y":197.5,"v":133},{"x":16.2,"y":202.5,"v":133},{"x":16.2,"y":207.5,"v":133},{"x":16.2,"y":212.5,"v":133},{"x":16.2,"y":217.5,"v":133},
{"x":16.6,"y":102.5,"v":59},{"x":16.6,"y":107.5,"v":61},{"x":16.6,"y":112.5,"v":65},{"x":16.6,"y":117.5,"v":70},{"x":16.6,"y":122.5,"v":74},{"x":16.6,"y":127.5,"v":83},{"x":16.6,"y":132.5,"v":92},{"x":16.6,"y":137.5,"v":102},{"x":16.6,"y":142.5,"v":112},{"x":16.6,"y":147.5,"v":120},{"x":16.6,"y":152.5,"v":127},{"x":16.6,"y":157.5,"v":131},{"x":16.6,"y":162.5,"v":133},{"x":16.6,"y":167.5,"v":135},{"x":16.6,"y":172.5,"v":136},{"x":16.6,"y":177.5,"v":137},{"x":16.6,"y":182.5,"v":137},{"x":16.6,"y":187.5,"v":137},{"x":16.6,"y":192.5,"v":136},{"x":16.6,"y":197.5,"v":136},{"x":16.6,"y":202.5,"v":135},{"x":16.6,"y":207.5,"v":135},{"x":16.6,"y":212.5,"v":134},{"x":16.6,"y":217.5,"v":134},
{"x":17.0,"y":102.5,"v":58},{"x":17.0,"y":107.5,"v":59},{"x":17.0,"y":112.5,"v":61},{"x":17.0,"y":117.5,"v":66},{"x":17.0,"y":122.5,"v":72},{"x":17.0,"y":127.5,"v":81},{"x":17.0,"y":132.5,"v":92},{"x":17.0,"y":137.5,"v":105},{"x":17.0,"y":142.5,"v":116},{"x":17.0,"y":147.5,"v":125},{"x":17.0,"y":152.5,"v":130},{"x":17.0,"y":157.5,"v":132},{"x":17.0,"y":162.5,"v":135},{"x":17.0,"y":167.5,"v":138},{"x":17.0,"y":172.5,"v":140},{"x":17.0,"y":177.5,"v":140},{"x":17.0,"y":182.5,"v":139},{"x":17.0,"y":187.5,"v":138},{"x":17.0,"y":192.5,"v":138},{"x":17.0,"y":197.5,"v":137},{"x":17.0,"y":202.5,"v":137},{"x":17.0,"y":207.5,"v":136},{"x":17.0,"y":212.5,"v":136},{"x":17.0,"y":217.5,"v":135},
{"x":17.4,"y":102.5,"v":55},{"x":17.4,"y":107.5,"v":57},{"x":17.4,"y":112.5,"v":59},{"x":17.4,"y":117.5,"v":62},{"x":17.4,"y":122.5,"v":70},{"x":17.4,"y":127.5,"v":79},{"x":17.4,"y":132.5,"v":93},{"x":17.4,"y":137.5,"v":107},{"x":17.4,"y":142.5,"v":120},{"x":17.4,"y":147.5,"v":129},{"x":17.4,"y":152.5,"v":135},{"x":17.4,"y":157.5,"v":140},{"x":17.4,"y":162.5,"v":140},{"x":17.4,"y":167.5,"v":141},{"x":17.4,"y":172.5,"v":142},{"x":17.4,"y":177.5,"v":142},{"x":17.4,"y":182.5,"v":142},{"x":17.4,"y":187.5,"v":141},{"x":17.4,"y":192.5,"v":140},{"x":17.4,"y":197.5,"v":139},{"x":17.4,"y":202.5,"v":138},{"x":17.4,"y":207.5,"v":138},{"x":17.4,"y":212.5,"v":137},{"x":17.4,"y":217.5,"v":137},
{"x":17.8,"y":102.5,"v":53},{"x":17.8,"y":107.5,"v":54},{"x":17.8,"y":112.5,"v":56},{"x":17.8,"y":117.5,"v":60},{"x":17.8,"y":122.5,"v":67},{"x":17.8,"y":127.5,"v":76},{"x":17.8,"y":132.5,"v":92},{"x":17.8,"y":137.5,"v":109},{"x":17.8,"y":142.5,"v":124},{"x":17.8,"y":147.5,"v":133},{"x":17.8,"y":152.5,"v":139},{"x":17.8,"y":157.5,"v":141},{"x":17.8,"y":162.5,"v":143},{"x":17.8,"y":167.5,"v":144},{"x":17.8,"y":172.5,"v":144},{"x":17.8,"y":177.5,"v":145},{"x":17.8,"y":182.5,"v":144},{"x":17.8,"y":187.5,"v":144},{"x":17.8,"y":192.5,"v":143},{"x":17.8,"y":197.5,"v":142},{"x":17.8,"y":202.5,"v":140},{"x":17.8,"y":207.5,"v":139},{"x":17.8,"y":212.5,"v":138},{"x":17.8,"y":217.5,"v":138},
{"x":18.2,"y":102.5,"v":50},{"x":18.2,"y":107.5,"v":52},{"x":18.2,"y":112.5,"v":56},{"x":18.2,"y":117.5,"v":59},{"x":18.2,"y":122.5,"v":63},{"x":18.2,"y":127.5,"v":73},{"x":18.2,"y":132.5,"v":92},{"x":18.2,"y":137.5,"v":112},{"x":18.2,"y":142.5,"v":129},{"x":18.2,"y":147.5,"v":138},{"x":18.2,"y":152.5,"v":141},{"x":18.2,"y":157.5,"v":143},{"x":18.2,"y":162.5,"v":145},{"x":18.2,"y":167.5,"v":146},{"x":18.2,"y":172.5,"v":146},{"x":18.2,"y":177.5,"v":147},{"x":18.2,"y":182.5,"v":147},{"x":18.2,"y":187.5,"v":146},{"x":18.2,"y":192.5,"v":145},{"x":18.2,"y":197.5,"v":144},{"x":18.2,"y":202.5,"v":143},{"x":18.2,"y":207.5,"v":141},{"x":18.2,"y":212.5,"v":139},{"x":18.2,"y":217.5,"v":138},
{"x":18.6,"y":102.5,"v":49},{"x":18.6,"y":107.5,"v":50},{"x":18.6,"y":112.5,"v":52},{"x":18.6,"y":117.5,"v":56},{"x":18.6,"y":122.5,"v":61},{"x":18.6,"y":127.5,"v":71},{"x":18.6,"y":132.5,"v":91},{"x":18.6,"y":137.5,"v":115},{"x":18.6,"y":142.5,"v":131},{"x":18.6,"y":147.5,"v":140},{"x":18.6,"y":152.5,"v":143},{"x":18.6,"y":157.5,"v":145},{"x":18.6,"y":162.5,"v":146},{"x":18.6,"y":167.5,"v":147},{"x":18.6,"y":172.5,"v":148},{"x":18.6,"y":177.5,"v":148},{"x":18.6,"y":182.5,"v":148},{"x":18.6,"y":187.5,"v":148},{"x":18.6,"y":192.5,"v":147},{"x":18.6,"y":197.5,"v":146},{"x":18.6,"y":202.5,"v":144},{"x":18.6,"y":207.5,"v":142},{"x":18.6,"y":212.5,"v":140},{"x":18.6,"y":217.5,"v":139},
{"x":19.0,"y":102.5,"v":47},{"x":19.0,"y":107.5,"v":48},{"x":19.0,"y":112.5,"v":49},{"x":19.0,"y":117.5,"v":53},{"x":19.0,"y":122.5,"v":59},{"x":19.0,"y":127.5,"v":68},{"x":19.0,"y":132.5,"v":89},{"x":19.0,"y":137.5,"v":117},{"x":19.0,"y":142.5,"v":135},{"x":19.0,"y":147.5,"v":141},{"x":19.0,"y":152.5,"v":144},{"x":19.0,"y":157.5,"v":146},{"x":19.0,"y":162.5,"v":147},{"x":19.0,"y":167.5,"v":148},{"x":19.0,"y":172.5,"v":149},{"x":19.0,"y":177.5,"v":149},{"x":19.0,"y":182.5,"v":149},{"x":19.0,"y":187.5,"v":149},{"x":19.0,"y":192.5,"v":148},{"x":19.0,"y":197.5,"v":147},{"x":19.0,"y":202.5,"v":145},{"x":19.0,"y":207.5,"v":143},{"x":19.0,"y":212.5,"v":141},{"x":19.0,"y":217.5,"v":139},
{"x":19.4,"y":102.5,"v":45},{"x":19.4,"y":107.5,"v":46},{"x":19.4,"y":112.5,"v":48},{"x":19.4,"y":117.5,"v":50},{"x":19.4,"y":122.5,"v":57},{"x":19.4,"y":127.5,"v":66},{"x":19.4,"y":132.5,"v":88},{"x":19.4,"y":137.5,"v":119},{"x":19.4,"y":142.5,"v":137},{"x":19.4,"y":147.5,"v":142},{"x":19.4,"y":152.5,"v":144},{"x":19.4,"y":157.5,"v":146},{"x":19.4,"y":162.5,"v":148},{"x":19.4,"y":167.5,"v":149},{"x":19.4,"y":172.5,"v":150},{"x":19.4,"y":177.5,"v":150},{"x":19.4,"y":182.5,"v":150},{"x":19.4,"y":187.5,"v":149},{"x":19.4,"y":192.5,"v":149},{"x":19.4,"y":197.5,"v":148},{"x":19.4,"y":202.5,"v":146},{"x":19.4,"y":207.5,"v":144},{"x":19.4,"y":212.5,"v":143},{"x":19.4,"y":217.5,"v":141},
{"x":19.8,"y":102.5,"v":43},{"x":19.8,"y":107.5,"v":44},{"x":19.8,"y":112.5,"v":46},{"x":19.8,"y":117.5,"v":48},{"x":19.8,"y":122.5,"v":54},{"x":19.8,"y":127.5,"v":63},{"x":19.8,"y":132.5,"v":86},{"x":19.8,"y":137.5,"v":120},{"x":19.8,"y":142.5,"v":139},{"x":19.8,"y":147.5,"v":142},{"x":19.8,"y":152.5,"v":145},{"x":19.8,"y":157.5,"v":147},{"x":19.8,"y":162.5,"v":148},{"x":19.8,"y":167.5,"v":149},{"x":19.8,"y":172.5,"v":150},{"x":19.8,"y":177.5,"v":150},{"x":19.8,"y":182.5,"v":150},{"x":19.8,"y":187.5,"v":150},{"x":19.8,"y":192.5,"v":149},{"x":19.8,"y":197.5,"v":148},{"x":19.8,"y":202.5,"v":147},{"x":19.8,"y":207.5,"v":145},{"x":19.8,"y":212.5,"v":143},{"x":19.8,"y":217.5,"v":142}
]
},
"hconcat":[
{
 "width":681,"height":736,
 "title":{"text":"Contours of Applied_Load","offset":8},
 "layer":[
  {
   "data":{"name":"grid"},
   "mark":{"type":"rect","strokeWidth":0.6},
   "encoding":{
    "x":{"field":"x","type":"quantitative","bin":{"step":0.4,"extent":[10,20]},"scale":{"domain":[10,20],"nice":false,"zero":false},"axis":{"values":[10,12,14,16,18,20],"format":"d","labelPadding":13,"titlePadding":16},"title":"Volume_Fraction"},
    "y":{"field":"y","type":"quantitative","bin":{"step":5,"extent":[100,220]},"scale":{"domain":[100,220],"nice":false,"zero":false},"axis":{"values":[100,120,140,160,180,200,220],"format":"d","labelPadding":9,"titlePadding":18},"title":"Wear_µm_"},
    "fill":{"field":"v","type":"quantitative","scale":{"domain":[40,51,62,68,73,79,84,90,97,106,117,128,139,150],"range":["#0030B0","#0036A0","#005070","#006A30","#00800A","#50A000","#98C400","#D8E800","#FFFF00","#FFE000","#FFB400","#FF7800","#FF3800","#FF1400"],"interpolate":"rgb"},"legend":null},
    "stroke":{"field":"v","type":"quantitative","scale":{"domain":[40,51,62,68,73,79,84,90,97,106,117,128,139,150],"range":["#0030B0","#0036A0","#005070","#006A30","#00800A","#50A000","#98C400","#D8E800","#FFFF00","#FFE000","#FFB400","#FF7800","#FF3800","#FF1400"],"interpolate":"rgb"},"legend":null}
   }
  },
  {
   "data":{"name":"contours"},
   "mark":{"type":"line","strokeWidth":1.2},
   "encoding":{
    "x":{"field":"x","type":"quantitative","title":"Volume_Fraction"},
    "y":{"field":"y","type":"quantitative","title":"Wear_µm_"},
    "detail":{"field":"seg"},
    "order":{"field":"o","type":"quantitative"},
    "color":{"field":"lvl","type":"nominal","scale":{"domain":["51","62","73","84","95","106","117","128","139"],"range":["#FF0000","#0000FF","#00FF00","#A020F0","#FF8000","#FFFF00","#00FFFF","#FF00FF","#8B0000"]},
     "legend":{"title":"Applied_Load","orient":"none","legendX":722,"legendY":234,"titleFontSize":17,"titleFontWeight":"normal","titlePadding":17,"labelFontSize":15,"symbolType":"stroke","symbolSize":700,"symbolStrokeWidth":1.5,"rowPadding":6,"labelOffset":12}}
   }
  }
 ]
},
{
 "width":69,"height":736,
 "data":{"name":"bands"},
 "mark":{"type":"rect"},
 "encoding":{
  "x":{"datum":0,"type":"quantitative","scale":{"domain":[0,1]},"axis":null},
  "x2":{"datum":1},
  "y":{"field":"lo","type":"quantitative","scale":{"domain":[40,150],"nice":false,"zero":false},"axis":{"orient":"right","values":[40,51,62,73,84,95,106,117,128,139,150],"ticks":false,"domain":false,"labelPadding":25,"labelFontSize":18,"title":"Applied_Load","titleFontSize":20,"titleAngle":270,"titlePadding":42}},
  "y2":{"field":"hi"},
  "fill":{"field":"band","type":"nominal","scale":{"domain":["b1","b2","b3","b4","b5"],"range":["#5E2374","#2C8A1E","#E6E600","#FF8C00","#5E2374"]},"legend":null}
 }
}
]
}
